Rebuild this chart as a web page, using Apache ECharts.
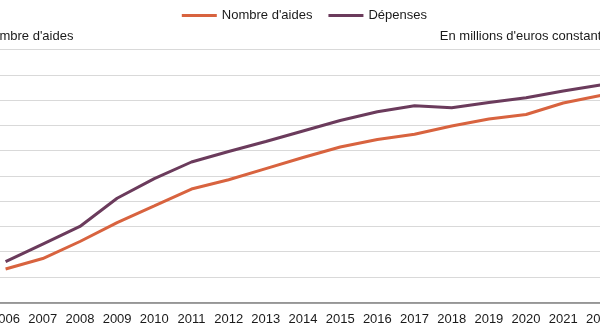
<!DOCTYPE html>
<html>
<head>
<meta charset="utf-8">
<script src="https://cdn.jsdelivr.net/npm/echarts@6/dist/echarts.min.js"></script>
<style>
  html, body { margin: 0; padding: 0; background: #ffffff; overflow: hidden; width: 600px; height: 332px; }
  /* the plot runs a little past both edges of the window */
  #chart { position: absolute; left: -12.8px; top: 0; width: 632.4px; height: 332px; }
</style>
</head>
<body>
<div id="chart"></div>
<script>
// Years on the category axis
const years = ['2006', '2007', '2008', '2009', '2010', '2011', '2012', '2013', '2014',
  '2015', '2016', '2017', '2018', '2019', '2020', '2021', '2022'];

// Number of aids (left axis)
const nombreAides = [263000, 346000, 481000, 631000, 762000, 896000, 970000, 1058000, 1146000,
  1229000, 1288000, 1329000, 1395000, 1450000, 1486000, 1577000, 1636000];

// Expenditure, millions of constant euros (right axis)
const depenses = [3210, 4610, 6000, 8230, 9790, 11100, 11930, 12720, 13550,
  14380, 15070, 15545, 15390, 15810, 16180, 16720, 17190];

// Series names
const seriesNames = ['Nombre d\'aides', 'Dépenses'];

const FONT = 'Liberation Sans, Arial, sans-serif';
const ORANGE = '#d8633f';
const PLUM = '#6b3b5c';
const SHIFT = 12.8; // container offset to the left

const chart = echarts.init(document.getElementById('chart'), null, { renderer: 'canvas' });

chart.setOption({
  animation: false,
  backgroundColor: '#ffffff',
  textStyle: { fontFamily: FONT },
  legend: {
    top: 4,
    left: 177 + SHIFT,
    itemWidth: 35,
    itemHeight: 3,
    itemGap: 16,
    icon: 'rect',
    textStyle: { fontFamily: FONT, fontSize: 13, color: '#1a1a1a' },
    data: seriesNames
  },
  graphic: [
    {
      type: 'text', left: -17 + SHIFT, top: 30,
      style: { text: 'Nombre d\'aides', font: '13px ' + FONT, fill: '#1a1a1a' }
    },
    {
      type: 'text', left: 440 + SHIFT, top: 30,
      style: { text: 'En millions d\'euros constants', font: '13px ' + FONT, fill: '#1a1a1a' }
    }
  ],
  grid: { left: 0, right: 0, top: 49.5, bottom: 29.7, containLabel: false },
  xAxis: {
    type: 'category',
    data: years,
    boundaryGap: true,
    axisLine: { lineStyle: { color: '#7f7f7f', width: 1.5 } },
    axisTick: { show: false },
    axisLabel: { fontFamily: FONT, fontSize: 13, color: '#1a1a1a', margin: 11, interval: 0 }
  },
  yAxis: [
    {
      type: 'value', min: 0, max: 2000000, interval: 200000,
      axisLabel: { show: false }, axisLine: { show: false }, axisTick: { show: false },
      splitLine: { lineStyle: { color: '#d9d9d9', width: 1 } }
    },
    {
      type: 'value', min: 0, max: 20000, interval: 2000,
      axisLabel: { show: false }, axisLine: { show: false }, axisTick: { show: false },
      splitLine: { show: false }
    }
  ],
  series: [
    {
      name: seriesNames[0], type: 'line', yAxisIndex: 0, data: nombreAides,
      symbol: 'none', lineStyle: { color: ORANGE, width: 3 }, itemStyle: { color: ORANGE }
    },
    {
      name: seriesNames[1], type: 'line', yAxisIndex: 1, data: depenses,
      symbol: 'none', lineStyle: { color: PLUM, width: 3 }, itemStyle: { color: PLUM }
    }
  ]
});
</script>
</body>
</html>
